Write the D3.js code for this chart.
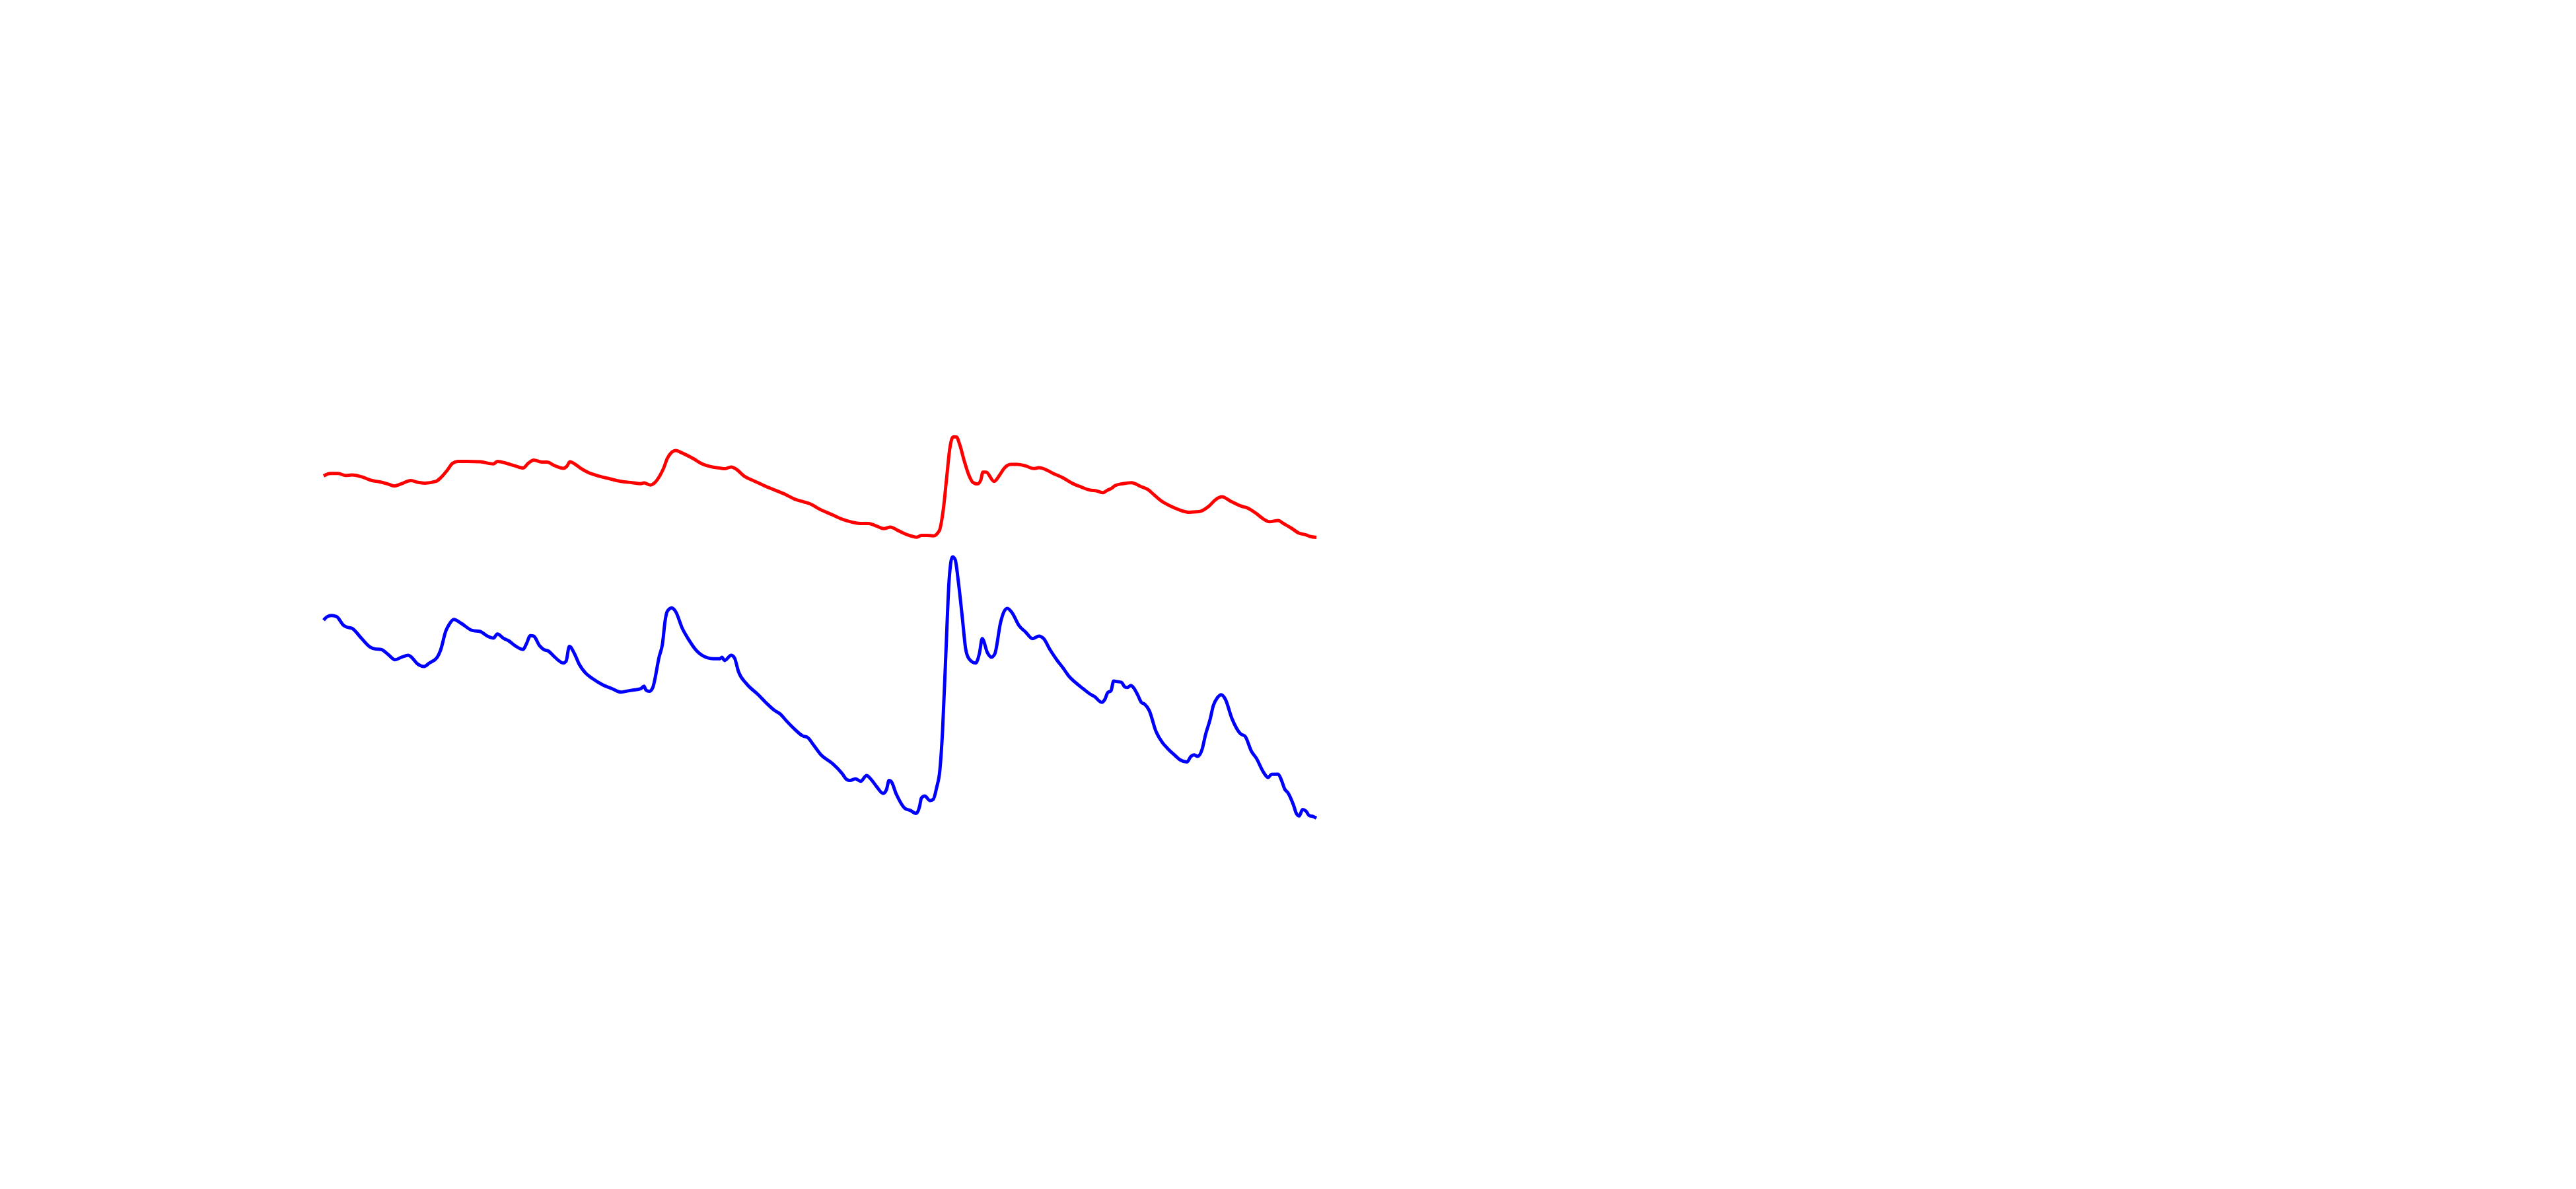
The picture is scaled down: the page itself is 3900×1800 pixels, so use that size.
<!DOCTYPE html>
<html>
<head>
<meta charset="utf-8">
<script src="https://cdn.jsdelivr.net/npm/d3@7"></script>
<style>
  html, body { margin: 0; padding: 0; background: #ffffff; }
  svg { display: block; }
</style>
</head>
<body>
<svg id="chart" width="3900" height="1800"></svg>
<script>
// Series (x: channel, y: intensity, arbitrary units)
const redX = [0,10,22,33,43,57,73,85,97,107,117,132,143,153,170,178,187,195,203,217,237,257,263,277,290,302,310,318,330,338,350,363,368,373,380,
  388,400,417,433,450,467,480,485,495,500,508,515,520,527,533,543,560,573,590,602,607,617,623,638,653,667,683,700,713,727,737,750,770,
  780,793,813,825,837,848,858,870,883,898,905,913,923,932,938,943,948,953,958,963,970,977,983,990,995,998,1003,1015,1023,1030,1040,1050,1063,1075,1083,1093,1103,1120,1133,1147,1160,
  1170,1180,1187,1193,1198,1210,1223,1237,1248,1257,1267,1283,1300,1310,1325,1340,1350,1360,1373,1390,1397,1413,1423,1432,1445,1453,1465,1477,1487,1493,1503];
const redY = [529.5,533.3,533.3,530.2,531,528.3,522.5,520.5,517.4,514.3,517.4,522.5,519.7,518.6,521.3,527.5,538,548.5,551.6,551.6,550.9,547.7,551.6,548.5,544.6,541.5,548.9,553.6,550.5,550.5,545,541.1,543.9,550.9,547.7,
  541.9,534.9,529.1,525.2,521.3,519.3,517.8,518.9,515.8,518.2,528.3,541.9,555.5,565.3,568,564.1,555.5,547.7,542.7,541.1,540.4,543.1,540.7,528.3,521.3,514.7,508.1,501.1,494.4,490.2,487,479.6,470.7,
  466,461.4,457.5,457.5,453.6,449.7,452,446.6,440.7,436.8,439.6,439.6,438.8,446.6,477.7,524.4,571.1,588.6,588.6,576.9,551.6,530.2,519.7,517.4,523.6,535.3,535.3,521.3,530.2,540.7,547,547,544.6,540.7,541.9,539.2,534.1,526.3,518.6,512.7,508.1,
  506.9,504.2,508.1,510.8,514.7,517.8,519.3,513.5,508.8,501.1,492.5,483.5,476.5,474.6,475.4,483.5,493.3,497.9,491.3,483.5,481.6,471.9,464.1,460.2,462.1,457.5,450.5,442.7,440.4,438,436.5];

const blueX = [0,5,12,20,30,35,43,57,70,78,87,97,108,118,128,133,142,152,160,172,177,185,190,197,208,225,237,248,257,263,272,280,290,302,307,313,318,327,333,340,350,363,367,372,380,
  387,397,407,423,437,450,457,468,480,485,488,493,498,508,513,517,520,527,533,543,553,565,573,590,600,603,607,617,622,628,640,658,670,682,692,700,713,725,733,742,753,770,
  778,785,792,797,805,813,822,828,837,847,852,856,859,867,880,888,897,902,905,910,918,923,928,933,937,942,947,952,956,961,967,972,977,987,993,997,1005,1011,1016,1025,1030,1035,1042,1053,1063,1073,1083,1090,1100,1110,1120,1128,1137,1150,1160,
  1167,1178,1183,1187,1192,1196,1202,1208,1213,1217,1222,1226,1233,1238,1243,1250,1260,1270,1278,1287,1297,1307,1313,1318,1323,1330,1335,1342,1347,1353,1359,1365,1375,1388,1395,1405,1412,1423,1430,1435,1445,1450,1455,1460,1468,1473,1477,1482,1487,1492,1498,1503];
const blueY = [311.2,316.2,318.2,316.2,303.4,300.7,298.7,283.9,270.7,267.6,266.8,259.8,251.2,255.1,257.9,255.1,245,241.1,246.2,255.1,265.6,294.8,304.6,312.3,306.5,295.6,294,287,283.9,290.2,283.9,280,272.3,266.8,275.4,287.8,287,272.3,266.8,264.5,255.1,246.2,248.9,271.5,259.8,
  244.2,230.6,222.8,213.1,207.3,202.2,203.4,205.3,207.3,211.2,205.3,203.4,208.4,255.9,275.4,310.4,324,329.8,324,298.7,281.2,264.5,257.9,252.8,252.8,255.1,250.1,257.9,254,233.3,215.1,198.3,185.9,175,168.4,159.4,146.2,136.1,133.3,121.7,107.3,94.4,
  86.7,78.9,69.9,68.4,71.1,67.2,76.1,71.1,59.4,48.9,54.4,68.4,67.2,47.7,26.3,23.2,18.6,28.3,41.9,45,38,40,57.5,84.7,143.1,259.8,372.6,406.9,403,368.8,314.3,267.6,252.8,246.2,261.8,283.2,261.8,255.1,259.8,308.4,324,329.1,322.8,302.6,292.9,283.2,287,283.2,266,251,238,226.7,217.8,207.3,199.5,
  195.6,186.7,191.7,201.4,204.2,218.9,218.1,217,210,209.2,212.3,209.2,196.8,186.7,183.9,174.2,143.1,125.6,116.6,108.1,99.5,96.4,104.9,107.3,104.9,115.8,137.2,160.6,182,193.7,198.3,191.7,162.5,139.2,135.3,111.9,102.2,80.8,73,77.7,78.1,69.1,55.5,49.7,32.2,17.8,14.7,24.4,22.4,15.5,13.9,11.6];

const seriesColors = ["#ff0000", "#0000ff"];

const svg = d3.select("#chart");

const x = d3.scaleLinear().domain([0, 1505]).range([490, 1995]);
const y = d3.scaleLinear().domain([0, 610]).range([1250, 640]);

const series = [
  { name: "red", xs: redX, ys: redY, color: seriesColors[0] },
  { name: "blue", xs: blueX, ys: blueY, color: seriesColors[1] }
];

const line = d3.line()
  .x(d => x(d[0]))
  .y(d => y(d[1]))
  .curve(d3.curveMonotoneX);

svg.selectAll("path.series")
  .data(series)
  .join("path")
  .attr("class", "series")
  .attr("fill", "none")
  .attr("stroke", d => d.color)
  .attr("stroke-width", 5)
  .attr("stroke-linejoin", "round")
  .attr("d", d => line(d.xs.map((v, i) => [v, d.ys[i]])));
</script>
</body>
</html>
